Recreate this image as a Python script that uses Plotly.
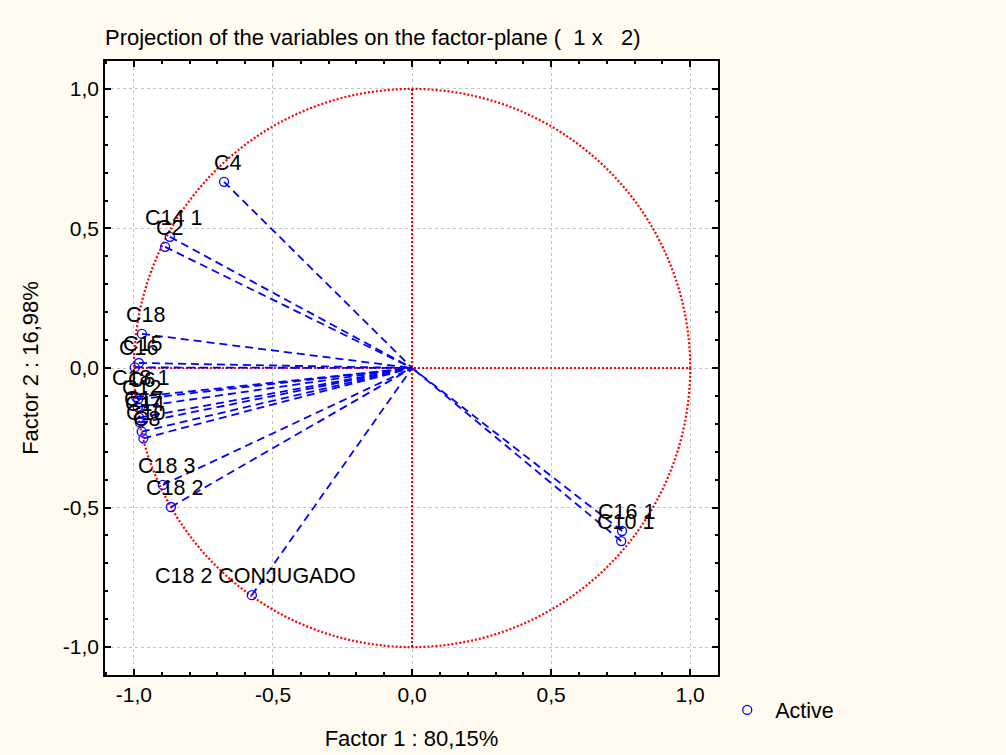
import plotly.graph_objects as go

# Variable loadings on factor 1 and factor 2
variables = ["C4", "C14 1", "C2", "C18", "C15", "C16", "C18 1", "C6", "C12",
             "C17", "C14", "C10", "C8", "C18 3", "C18 2", "C18 2 CONJUGADO",
             "C16 1", "C10 1"]
factor1 = [-0.676, -0.871, -0.888, -0.971, -0.982, -0.997, -0.992, -0.985, -0.986,
           -0.981, -0.978, -0.972, -0.966, -0.896, -0.867, -0.576,
           0.755, 0.752]
factor2 = [0.667, 0.470, 0.434, 0.122, 0.018, 0.002, -0.104, -0.112, -0.140,
           -0.178, -0.196, -0.228, -0.252, -0.419, -0.498, -0.814,
           -0.584, -0.620]

tick_vals = [-1.0, -0.5, 0.0, 0.5, 1.0]
tick_text = ["-1,0", "-0,5", "0,0", "0,5", "1,0"]

title_text = "Projection of the variables on the factor-plane (  1 x   2)"
x_title = "Factor 1 : 80,15%"
y_title = "Factor 2 : 16,98%"

BLUE = "#0000ff"
RED = "#ff0000"
FONT = "Liberation Sans, Arial, sans-serif"

fig = go.Figure()

# Dashed vectors from each variable point back to the origin
for name, fx, fy in zip(variables, factor1, factor2):
    fig.add_trace(go.Scatter(
        x=[fx, 0], y=[fy, 0], mode="lines",
        line=dict(color=BLUE, width=1.8, dash="8px,5px"),
        hoverinfo="skip", showlegend=False,
    ))

# Variable points
fig.add_trace(go.Scatter(
    x=factor1, y=factor2, mode="markers", name="Active",
    text=variables,
    marker=dict(symbol="circle-open", size=9, color=BLUE, line=dict(width=1.3, color=BLUE)),
    showlegend=True,
))

# Variable labels just above each point
for name, fx, fy in zip(variables, factor1, factor2):
    fig.add_annotation(
        x=fx, y=fy, text=name, showarrow=False,
        xshift=4, yshift=19,
        font=dict(family=FONT, size=21.5, color="black"),
    )

# Unit circle and red reference axes
red_line = dict(color=RED, width=2.2, dash="2px,2px")
fig.add_shape(type="circle", xref="x", yref="y", x0=-1, y0=-1, x1=1, y1=1,
              line=red_line, layer="between")
fig.add_shape(type="line", xref="x", yref="y", x0=-1, y0=0, x1=1, y1=0,
              line=red_line, layer="between")
fig.add_shape(type="line", xref="x", yref="y", x0=0, y0=-1, x1=0, y1=1,
              line=red_line, layer="between")

axis_common = dict(
    range=[-1.104, 1.1],
    tickvals=tick_vals, ticktext=tick_text,
    ticks="inside", ticklen=6, tickwidth=1.5, tickcolor="black",
    showline=True, linecolor="black", linewidth=1.5, mirror="allticks",
    showgrid=True, gridcolor="#c4c4c4", gridwidth=1, griddash="dot",
    zeroline=False,
    tickfont=dict(family=FONT, size=21, color="black"),
    minor=dict(dtick=0.1, ticks="inside", ticklen=3, tickcolor="black", showgrid=False),
)

fig.update_xaxes(**axis_common,
                 title=dict(text=x_title, standoff=26,
                            font=dict(family=FONT, size=22, color="black")))
fig.update_yaxes(**axis_common,
                 title=dict(text=y_title, standoff=18,
                            font=dict(family=FONT, size=22, color="black")))
fig.update_yaxes(range=[-1.1, 1.1])

fig.update_layout(
    width=1006, height=755,
    margin=dict(l=105, r=288, t=61, b=80, autoexpand=False),
    paper_bgcolor="#fffbf0", plot_bgcolor="white",
    title=dict(text=title_text, x=105 / 1006, xanchor="left", xref="container",
               y=1 - 37 / 755, yanchor="middle", yref="container",
               font=dict(family=FONT, size=22, color="black")),
    legend=dict(x=1.002, xanchor="left", y=-0.057, yanchor="middle",
                itemwidth=46, bgcolor="rgba(0,0,0,0)",
                font=dict(family=FONT, size=21.5, color="black")),
    showlegend=True,
)

fig.write_html("out.html")
